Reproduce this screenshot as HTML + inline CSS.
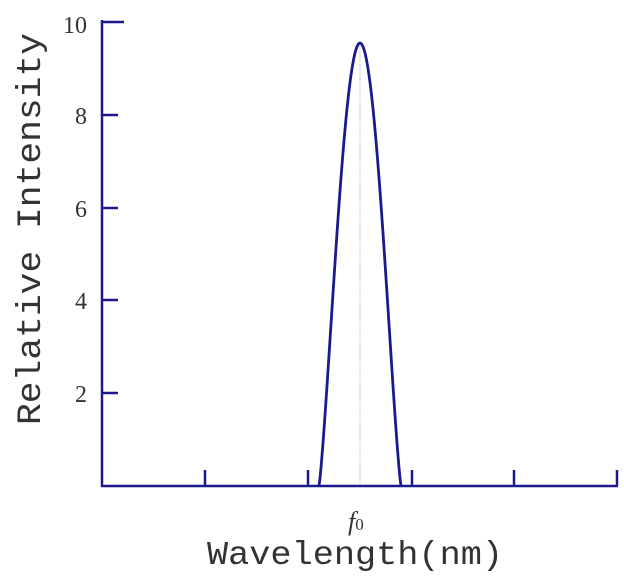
<!DOCTYPE html>
<html><head><style>html,body{margin:0;padding:0;background:#fff;}</style></head>
<body>
<svg id="s" width="624" height="579" viewBox="0 0 624 579" xmlns="http://www.w3.org/2000/svg">
<g stroke="#1a1a8c" stroke-width="2.5" fill="none">
<line x1="102" y1="20" x2="102" y2="487"/>
<line x1="101" y1="486" x2="618" y2="486"/>
<line x1="102" y1="22" x2="124" y2="22"/>
<line x1="102" y1="115" x2="118" y2="115"/>
<line x1="102" y1="208" x2="118" y2="208"/>
<line x1="102" y1="300" x2="118" y2="300"/>
<line x1="102" y1="393" x2="118" y2="393"/>
<line x1="205" y1="486" x2="205" y2="470"/>
<line x1="308" y1="486" x2="308" y2="470"/>
<line x1="412" y1="486" x2="412" y2="470"/>
<line x1="514" y1="486" x2="514" y2="470"/>
<line x1="617" y1="486" x2="617" y2="470"/>
</g>
<line x1="360" y1="44" x2="360" y2="486" stroke="#999" stroke-width="1" stroke-dasharray="1,1.5"/>
<path id="c" stroke="#1a1a8c" stroke-width="2.8" fill="none"/>
<g style="font-family:'Liberation Serif',serif;font-size:24px;fill:#333" text-anchor="end">
<text x="87" y="33">10</text>
<text x="87" y="124">8</text>
<text x="87" y="217">6</text>
<text x="87" y="309">4</text>
<text x="87" y="402">2</text>
</g>
<text x="348" y="530" style="font-family:'Liberation Serif',serif;font-style:italic;font-size:26px;fill:#333">f<tspan style="font-size:17px;font-style:normal" dy="0">0</tspan></text>
<text x="207" y="564" style="font-family:'Liberation Mono',monospace;font-size:33px;fill:#333" textLength="296" lengthAdjust="spacingAndGlyphs">Wavelength(nm)</text>
<text transform="translate(40,425) rotate(-90)" x="0" y="0" style="font-family:'Liberation Mono',monospace;font-size:34px;fill:#333" textLength="392" lengthAdjust="spacingAndGlyphs">Relative Intensity</text>
</svg>
<script>
var d="";for(var i=0;i<=82;i++){var dx=i-41;var v=Math.pow(Math.max(0,Math.cos(Math.PI*dx/82)),1.24);var y=486-443*v;d+=(i?"L":"M")+(319+i)+","+y.toFixed(2);}
document.getElementById("c").setAttribute("d",d);
</script>
</body></html>
